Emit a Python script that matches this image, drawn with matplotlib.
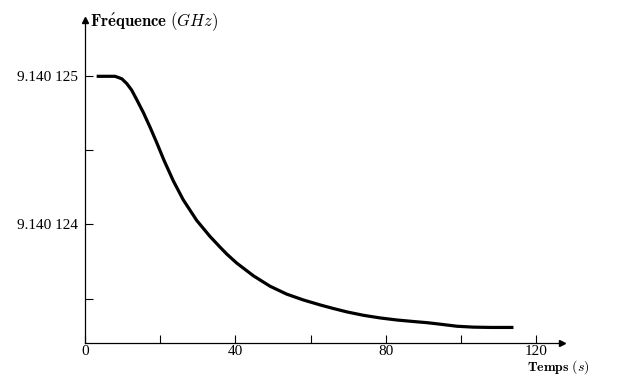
import matplotlib
matplotlib.use("Agg")
import matplotlib.pyplot as plt

plt.rcParams['mathtext.fontset'] = 'cm'

# time (s) and frequency (GHz)
temps = [3.1, 8.0, 9.8, 11.1, 12.4, 13.7, 15.5, 17.3, 19.1, 21.0, 23.5,
         26.1, 29.7, 33.2, 35.9, 37.7, 40.3, 44.8, 49.2, 53.6, 58.1, 62.5,
         66.0, 69.6, 74.0, 78.5, 83.0, 87.3, 91.0, 94.4, 98.9, 103.3, 108.0,
         113.9]
frequence = [9.140125000, 9.140125000, 9.140124983, 9.140124951, 9.140124907,
             9.140124845, 9.140124756, 9.140124656, 9.140124550, 9.140124433,
             9.140124293, 9.140124167, 9.140124027, 9.140123920, 9.140123847,
             9.140123800, 9.140123740, 9.140123653, 9.140123583, 9.140123530,
             9.140123490, 9.140123457, 9.140123433, 9.140123410, 9.140123387,
             9.140123369, 9.140123355, 9.140123345, 9.140123337, 9.140123327,
             9.140123313, 9.140123307, 9.140123305, 9.140123305]

x_ticks = [0, 20, 40, 60, 80, 100, 120]
x_labels = ['0', '', '40', '', '80', '', '120']
y_ticks = [9.1401235, 9.140124, 9.1401245, 9.140125]
y_labels = ['', '9.140 124', '', '9.140 125']

fig = plt.figure(figsize=(6.19, 3.78), dpi=100)
ax = fig.add_axes([85 / 619, 35 / 378, 477 / 619, 323 / 378])

ax.plot(temps, frequence, color='black', lw=2.3,
        solid_capstyle='butt', solid_joinstyle='round')

ax.set_xlim(0, 126.8)
ax.set_ylim(9.1401232, 9.14012538)

for side in ['top', 'right']:
    ax.spines[side].set_visible(False)
for side in ['left', 'bottom']:
    ax.spines[side].set_linewidth(0.9)

# arrow heads on the axes
ax.plot(1, 0, '>', color='black', ms=5, transform=ax.transAxes, clip_on=False)
ax.plot(0, 1, '^', color='black', ms=4, transform=ax.transAxes, clip_on=False)

ax.set_xticks(x_ticks)
ax.set_xticklabels(x_labels)
ax.set_yticks(y_ticks)
ax.set_yticklabels(y_labels)
ax.tick_params(direction='in', length=6, width=0.8, pad=5, labelsize=11)
ax.tick_params(axis='x', pad=1.5)
for lab in ax.get_xticklabels() + ax.get_yticklabels():
    lab.set_fontfamily('Liberation Serif')

fig.text(90 / 619, 1 - 22 / 378, r'$\mathbf{Fr\acute{e}quence}\ (GHz)$',
         fontsize=12, ha='left', va='center')
fig.text(527 / 619, 2 / 378, r'$\mathbf{Temps}\ (s)$',
         fontsize=10, ha='left', va='bottom')

fig.savefig('out.png', dpi=100)
